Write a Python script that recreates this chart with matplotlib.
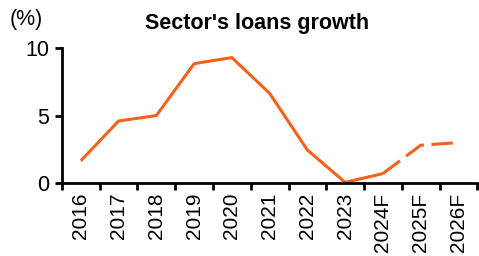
import matplotlib
matplotlib.use("Agg")
import matplotlib.pyplot as plt
import numpy as np

plt.rcParams['font.family'] = ['Liberation Sans', 'DejaVu Sans']

# Datos
years = ["2016", "2017", "2018", "2019", "2020", "2021", "2022", "2023",
         "2024F", "2025F", "2026F"]
growth = [1.65, 4.6, 5.0, 8.85, 9.3, 6.65, 2.45, 0.05, 0.7, 2.8, 3.0]
n_actual = 9  # hasta 2024F linea continua

color = "#F4621A"
x = np.arange(len(years))

fig = plt.figure(figsize=(4.79, 2.56), dpi=100)
ax = fig.add_axes([0.1294, 0.285, 0.867, 0.527])

ax.plot(x[:n_actual], growth[:n_actual], color=color, lw=2.2, solid_capstyle="butt")
ax.plot(x[n_actual - 1:], growth[n_actual - 1:], color=color, lw=2.2,
        dashes=(7, 2.5), dash_capstyle="butt")

ax.set_xlim(-0.5, len(years) - 0.5)
ax.set_ylim(0, 10)
ax.set_yticks([0, 5, 10])
ax.set_xticks(x)
ax.set_xticklabels(years, rotation=90)
ax.set_xticks(np.arange(len(years) + 1) - 0.5, minor=True)
ax.tick_params(axis="x", which="major", length=0, pad=7, labelsize=15)
ax.tick_params(axis="x", which="minor", length=5, width=2, direction="out")
ax.tick_params(axis="y", length=5, width=2, labelsize=15.5, pad=4)

for s in ["top", "right"]:
    ax.spines[s].set_visible(False)
for s in ["left", "bottom"]:
    ax.spines[s].set_linewidth(2)

fig.text(257 / 479, 1 - 24 / 256, "Sector's loans growth", ha="center", va="center",
         fontsize=15.5, fontweight="bold")
fig.text(10 / 479, 1 - 19 / 256, "(%)", ha="left", va="center", fontsize=15.5)

fig.savefig("out.png", dpi=100)
